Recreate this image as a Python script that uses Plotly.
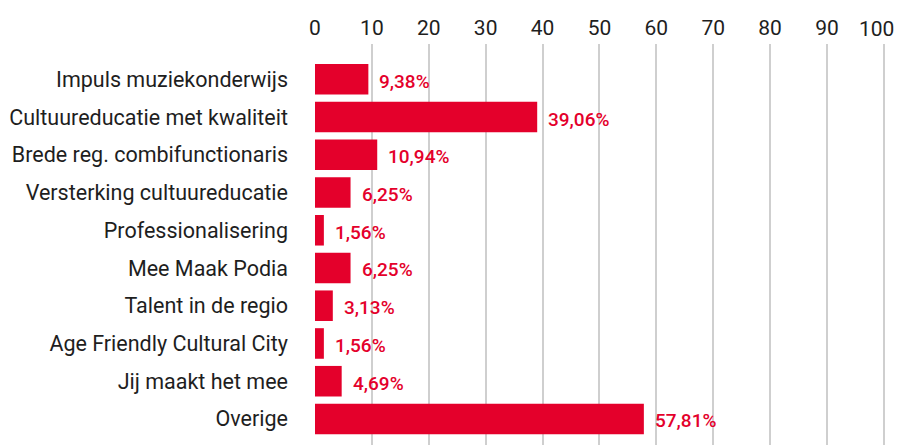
import plotly.graph_objects as go

categories = [
    "Impuls muziekonderwijs",
    "Cultuureducatie met kwaliteit",
    "Brede reg. combifunctionaris",
    "Versterking cultuureducatie",
    "Professionalisering",
    "Mee Maak Podia",
    "Talent in de regio",
    "Age Friendly Cultural City",
    "Jij maakt het mee",
    "Overige",
]
values = [9.38, 39.06, 10.94, 6.25, 1.56, 6.25, 3.13, 1.56, 4.69, 57.81]
labels = [f"{v:.2f}".replace(".", ",") + "%" for v in values]
x_ticks = list(range(0, 101, 10))
# the last tick label is drawn as an annotation so it stays inside the page edge
x_ticktext = [str(t) for t in x_ticks[:-1]] + [""]

RED = "#E4002B"
INK = "#1e1e1e"
FONT = "Roboto"

fig = go.Figure()
fig.add_trace(go.Bar(
    y=categories, x=values, orientation="h",
    marker=dict(color=RED, line=dict(width=0)),
    hoverinfo="skip",
))

for c, v, t in zip(categories, values, labels):
    fig.add_annotation(
        x=v, y=c, text=t, showarrow=False,
        xanchor="left", yanchor="middle", xshift=9, yshift=-2,
        font=dict(family=FONT, size=19, color=RED, weight=500),
    )

fig.add_annotation(
    x=x_ticks[-1], xref="x", y=1, yref="paper", text=str(x_ticks[-1]),
    showarrow=False, xanchor="right", yanchor="bottom", xshift=12, yshift=1,
    font=dict(family=FONT, size=21, color=INK),
)

fig.update_layout(
    width=897, height=445,
    margin=dict(l=315, r=12, t=44, b=0),
    paper_bgcolor="white", plot_bgcolor="white",
    bargap=0.19, showlegend=False,
    font=dict(family=FONT, size=21, color=INK),
)
fig.update_xaxes(
    side="top", range=[0, 100.2], tickvals=x_ticks, ticktext=x_ticktext,
    showgrid=True, gridcolor="#cfcfcf", gridwidth=1.5,
    zeroline=False, showline=False, ticks="",
    ticklabelstandoff=4, automargin=False,
    tickfont=dict(family=FONT, size=21, color=INK),
)
fig.update_yaxes(
    autorange=False, range=[9.69, -0.935],
    showgrid=False, zeroline=False, showline=False, ticks="",
    ticklabelstandoff=26, automargin=False,
    tickfont=dict(family=FONT, size=21.5, color=INK),
)

fig.write_html(
    "out.html",
    config={"displayModeBar": False},
    post_script="document.body.style.margin='0';document.body.style.overflow='hidden';",
)
